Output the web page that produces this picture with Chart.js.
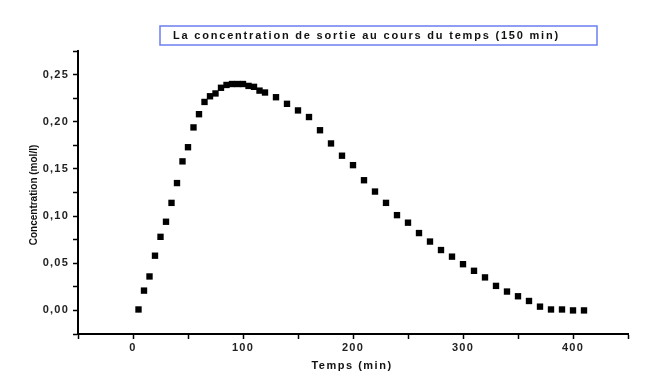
<!DOCTYPE html>
<html>
<head>
<meta charset="utf-8">
<script src="https://cdn.jsdelivr.net/npm/chart.js@4"></script>
<style>
  body { margin: 0; background: #fff; }
  #wrap { width: 661px; height: 381px; }
</style>
</head>
<body>
<div id="wrap"><canvas id="chart" width="661" height="381"></canvas></div>
<script>
const chartTitle = 'La concentration de sortie au cours du temps (150 min)';
const xTitle = 'Temps (min)';
const yTitle = 'Concentration (mol/l)';

// time in minutes
const times = [
  5, 10, 15, 20, 25, 30, 35, 40, 45, 50, 55, 60, 65, 70, 75, 80, 85, 90, 95, 100,
  105, 110, 115, 120, 130, 140, 150, 160, 170, 180, 190, 200, 210, 220, 230, 240,
  250, 260, 270, 280, 290, 300, 310, 320, 330, 340, 350, 360, 370, 380, 390, 400, 410
];

// concentration (mol/l)
const concentrations = [
  0.001, 0.021, 0.036, 0.058, 0.078, 0.094, 0.114, 0.135, 0.158, 0.173, 0.194, 0.208,
  0.221, 0.227, 0.230, 0.236, 0.239, 0.240, 0.240, 0.240,
  0.238, 0.237, 0.233, 0.231, 0.226, 0.219, 0.212, 0.205, 0.191, 0.177, 0.164, 0.154,
  0.138, 0.126, 0.114, 0.101, 0.093, 0.082, 0.073, 0.064, 0.057, 0.049, 0.042, 0.035,
  0.026, 0.020, 0.015, 0.010, 0.004, 0.001, 0.001, 0.000, 0.000
];

const points = times.map((t, i) => ({ x: t, y: concentrations[i] }));

const fontFamily = 'Arial, "Liberation Sans", sans-serif';

// title box and axis titles, drawn on the canvas
const textPlugin = {
  id: 'texts',
  beforeDraw(chart) {
    chart.ctx.letterSpacing = '1.2px';
  },
  afterDraw(chart) {
    const ctx = chart.ctx;
    ctx.save();
    ctx.fillStyle = '#111';
    ctx.textBaseline = 'middle';

    // boxed title
    ctx.strokeStyle = '#6b7ef0';
    ctx.lineWidth = 1.5;
    ctx.strokeRect(160, 26, 437, 19);
    ctx.letterSpacing = '1.8px';
    ctx.font = 'bold 11px ' + fontFamily;
    ctx.textAlign = 'left';
    ctx.fillText(chartTitle, 173, 36);

    // x axis title
    ctx.letterSpacing = '1.5px';
    ctx.textAlign = 'center';
    ctx.fillText(xTitle, 352, 366);

    // y axis title
    ctx.letterSpacing = '0px';
    ctx.font = 'bold 10px ' + fontFamily;
    ctx.translate(34, 195);
    ctx.rotate(-Math.PI / 2);
    ctx.fillText(yTitle, 0, 0);
    ctx.restore();
  }
};

const isMajor = (v, step) => Math.abs(Math.round(v / step) * step - v) < 1e-9;

new Chart(document.getElementById('chart').getContext('2d'), {
  type: 'scatter',
  data: {
    datasets: [{
      data: points,
      pointStyle: 'rect',
      pointRadius: 4.5,
      pointBorderWidth: 0,
      backgroundColor: '#000',
      borderColor: '#000'
    }]
  },
  options: {
    responsive: false,
    animation: false,
    layout: { padding: { left: 0, right: 33, top: 51, bottom: 0 } },
    plugins: {
      legend: { display: false },
      tooltip: { enabled: false }
    },
    scales: {
      x: {
        type: 'linear',
        min: -50,
        max: 450,
        afterFit(scale) { scale.height = 47; },
        border: { color: '#000', width: 2 },
        grid: { drawOnChartArea: false, drawTicks: true, tickLength: 5, tickColor: '#000', tickWidth: 1.5 },
        ticks: {
          stepSize: 50,
          autoSkip: false,
          maxRotation: 0,
          padding: 2,
          color: '#222',
          font: { family: fontFamily, size: 11, weight: 'bold' },
          callback: v => (isMajor(v, 100) ? String(v) : '')
        }
      },
      y: {
        type: 'linear',
        min: -0.025,
        max: 0.275,
        afterFit(scale) { scale.width = 78; },
        border: { color: '#000', width: 2 },
        grid: { drawOnChartArea: false, drawTicks: true, tickLength: 5, tickColor: '#000', tickWidth: 1.5 },
        ticks: {
          stepSize: 0.025,
          autoSkip: false,
          padding: 4,
          color: '#222',
          font: { family: fontFamily, size: 11, weight: 'bold' },
          callback: v => (isMajor(v, 0.05) ? v.toFixed(2).replace('.', ',') : '')
        }
      }
    }
  },
  plugins: [textPlugin]
});
</script>
</body>
</html>
